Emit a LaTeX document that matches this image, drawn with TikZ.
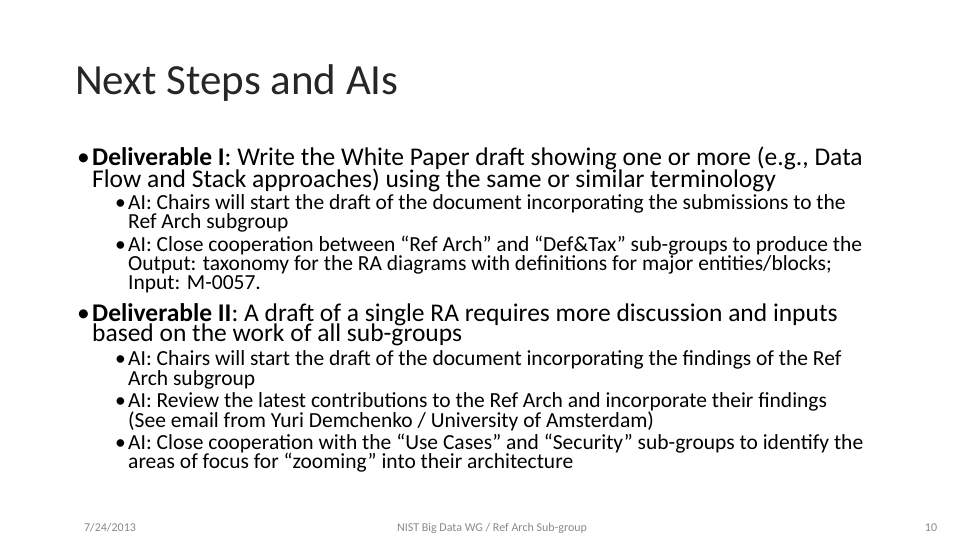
\documentclass[tikz,border=0pt]{standalone}
\usepackage{fontspec}
\setmainfont{Carlito}
\definecolor{txt}{RGB}{0,0,0}
\definecolor{ttlc}{RGB}{38,38,38}
\definecolor{foot}{RGB}{137,137,137}
\begin{document}
\begin{tikzpicture}[x=1pt,y=-1pt,
  ttl/.style={anchor=base west,inner sep=0,text=ttlc,font=\fontsize{43}{46}\selectfont},
  lone/.style={anchor=base west,inner sep=0,font=\fontsize{25.5}{27}\selectfont},
  ltwo/.style={anchor=base west,inner sep=0,font=\fontsize{21.5}{23}\selectfont},
  ft/.style={anchor=base,inner sep=0,text=foot,font=\fontsize{12}{14}\selectfont}]
\useasboundingbox (0,0) rectangle (960,540);
\node[ttl] (t) at (75,95) {Next Steps and AIs};
\node[lone] (b1) at (77,165) {•};
\node[lone] (a1) at (92,165) {\textbf{Deliverable I}: Write the White Paper draft showing one or more (e.g., Data};
\node[lone] (a2) at (92,187) {Flow and Stack approaches) using the same or similar terminology};
\node[ltwo] (s1b) at (115,209) {•};
\node[ltwo] (s1) at (128,209) {AI: Chairs will start the draft of the document incorporating the submissions to the};
\node[ltwo] (s2) at (128,228) {Ref Arch subgroup};
\node[ltwo] (s3b) at (115,251) {•};
\node[ltwo] (s3) at (128,251) {AI: Close cooperation between “Ref Arch” and “Def\&Tax” sub-groups to produce the};
\node[ltwo] (s4) at (128,270) {Output: taxonomy for the RA diagrams with definitions for major entities/blocks;};
\node[ltwo] (s5) at (128,289) {Input: M-0057.};
\node[lone] (b2) at (77,321) {•};
\node[lone] (c1) at (92,321) {\textbf{Deliverable II}: A draft of a single RA requires more discussion and inputs};
\node[lone] (c2) at (92,341) {based on the work of all sub-groups};
\node[ltwo] (u1b) at (115,365) {•};
\node[ltwo] (u1) at (128,365) {AI: Chairs will start the draft of the document incorporating the findings of the Ref};
\node[ltwo] (u2) at (128,385) {Arch subgroup};
\node[ltwo] (u3b) at (115,407) {•};
\node[ltwo] (u3) at (128,407) {AI: Review the latest contributions to the Ref Arch and incorporate their findings};
\node[ltwo] (u4) at (128,427) {(See email from Yuri Demchenko / University of Amsterdam)};
\node[ltwo] (u5b) at (115,449) {•};
\node[ltwo] (u5) at (128,449) {AI: Close cooperation with the “Use Cases” and “Security” sub-groups to identify the};
\node[ltwo] (u6) at (128,468) {areas of focus for “zooming” into their architecture};
\node[ft] (f1) at (110,531) {7/24/2013};
\node[ft] (f2) at (492,531) {NIST Big Data WG / Ref Arch Sub-group};
\node[ft] (f3) at (931,531) {10};
\end{tikzpicture}
\end{document}
